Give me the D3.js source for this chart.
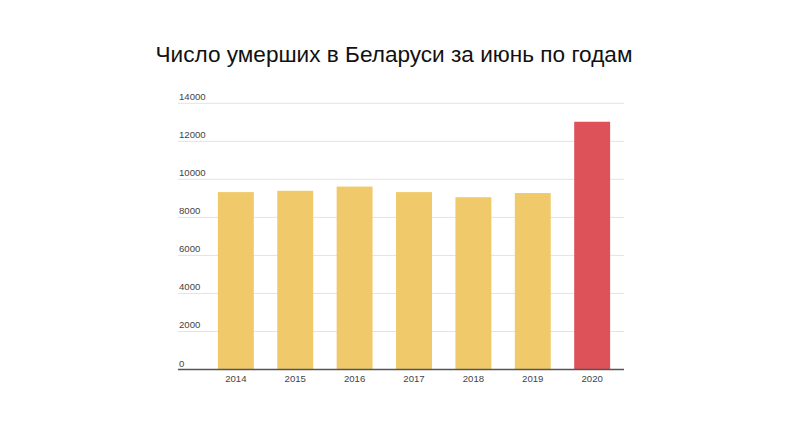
<!DOCTYPE html>
<html><head><meta charset="utf-8">
<script src="https://cdn.jsdelivr.net/npm/d3@7"></script>
<style>body{margin:0;background:#fff;}svg{display:block;font-family:"Liberation Sans",Arial,sans-serif;}</style>
</head><body>
<svg id="c" width="800" height="424"></svg>
<script>
const title = "Число умерших в Беларуси за июнь по годам";
const years = ["2014","2015","2016","2017","2018","2019","2020"];
const deaths = [9330, 9400, 9620, 9330, 9060, 9280, 13030];
const highlightYear = "2020";
const yTicks = [0, 2000, 4000, 6000, 8000, 10000, 12000, 14000];

(function(){
const svg = d3.select("#c");
const gLeft = 178, gRight = 624, gTop = 103.3, gBottom = 369.5;

const x = d3.scaleBand().domain(years).range([206, 622]).paddingInner(0.395).paddingOuter(0.2);
const y = d3.scaleLinear().domain([0, 14000]).range([gBottom, gTop]);

svg.append("text").attr("x", 394).attr("y", 62).attr("text-anchor", "middle")
  .attr("font-size", 22.6).attr("fill", "#111").text(title);

const grid = svg.append("g");
grid.selectAll("line").data(yTicks.filter(d => d > 0)).join("line")
  .attr("x1", gLeft).attr("x2", gRight)
  .attr("y1", d => y(d)).attr("y2", d => y(d))
  .attr("stroke", "#e3e3e3").attr("stroke-width", 1);
grid.selectAll("text").data(yTicks).join("text")
  .attr("x", gLeft + 1).attr("y", d => y(d) - 3)
  .attr("font-size", 9.6).attr("fill", "#444").text(d => d);

svg.append("g").selectAll("rect").data(years).join("rect")
  .attr("x", d => x(d)).attr("width", x.bandwidth())
  .attr("y", (d, i) => y(deaths[i])).attr("height", (d, i) => gBottom - y(deaths[i]))
  .attr("fill", d => d === highlightYear ? "#dc5258" : "#f0ca6a");

const xa = svg.append("g").attr("transform", `translate(0,${gBottom})`)
  .call(d3.axisBottom(x).tickSize(0).tickPadding(6));
xa.select(".domain").remove();
xa.selectAll("text").attr("font-size", 9.6).attr("fill", "#444").attr("font-family", "Liberation Sans, Arial, sans-serif");
svg.append("line").attr("x1", gLeft).attr("x2", gRight).attr("y1", gBottom).attr("y2", gBottom)
  .attr("stroke", "#555").attr("stroke-width", 1.5);
})();
</script>
</body></html>
